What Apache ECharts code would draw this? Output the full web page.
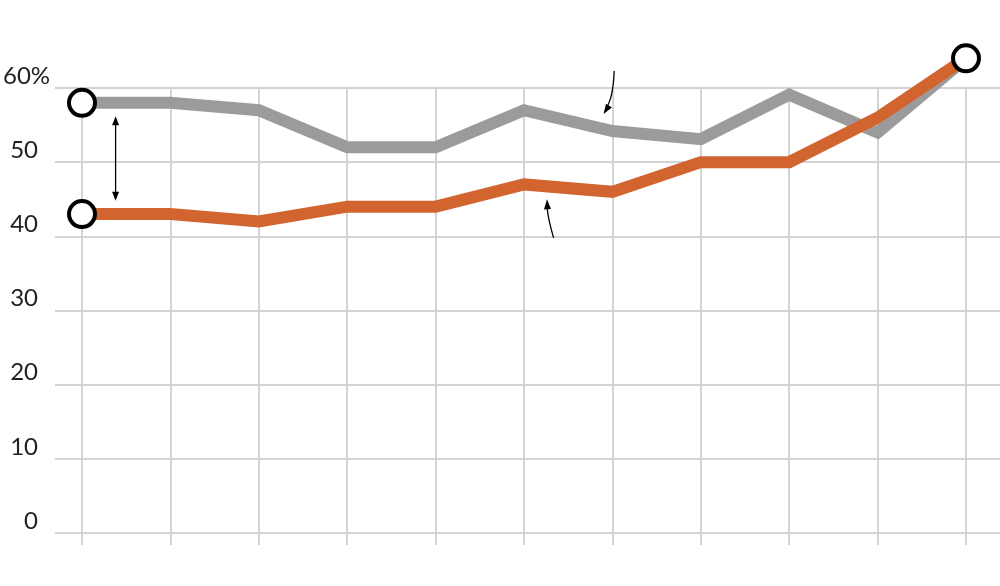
<!DOCTYPE html>
<html><head><meta charset="utf-8">
<script src="https://cdn.jsdelivr.net/npm/echarts@6/dist/echarts.min.js"></script>
<style>html,body{margin:0;padding:0;background:#fff}#c{width:1000px;height:586px}</style>
</head><body><div id="c"></div>
<script>
// ---- data ----
const categories = ['1','2','3','4','5','6','7','8','9','10','11'];
const graySeries = [58, 58, 57, 52, 52, 57, 54.2, 53.1, 59.1, 54, 64];
const orangeSeries = [43, 43, 42, 44, 44, 47, 46, 50, 50, 56, 64];
const yTicks = [0, 10, 20, 30, 40, 50, 60];
const yTopLabel = '60%';

const GRID = '#d3d3d3';
const FONT = 'Lato, "DejaVu Sans", sans-serif';
const FS = 24;
const chart = echarts.init(document.getElementById('c'), null, {renderer: 'canvas'});

const endpoints = [
  [0, graySeries[0]],
  [0, orangeSeries[0]],
  [categories.length - 1, orangeSeries[orangeSeries.length - 1]]
];

chart.setOption({
  animation: false,
  backgroundColor: '#fff',
  grid: [
    {left: 82, right: 34, top: 88, bottom: 53},
    {left: 55, right: 0, top: 88, bottom: 53}
  ],
  xAxis: [
    {type: 'category', gridIndex: 0, data: categories, boundaryGap: false,
     axisLine: {show: false},
     axisTick: {show: true, length: 12, lineStyle: {color: GRID, width: 2}},
     axisLabel: {show: false},
     splitLine: {show: true, lineStyle: {color: GRID, width: 2}}},
    {type: 'value', gridIndex: 1, show: false}
  ],
  yAxis: [
    {type: 'value', gridIndex: 0, min: yTicks[0], max: yTicks[yTicks.length - 1], interval: 10, show: false},
    {type: 'value', gridIndex: 1, min: yTicks[0], max: yTicks[yTicks.length - 1], interval: 10,
     axisLine: {show: false}, axisTick: {show: false},
     splitLine: {show: true, lineStyle: {color: GRID, width: 2}},
     axisLabel: {margin: 17, align: 'right', verticalAlign: 'bottom', fontFamily: FONT, fontSize: FS,
       color: '#222', lineHeight: FS, padding: [0, 0, 0, 0],
       formatter: v => (v === yTicks[yTicks.length - 1] ? '' : String(v))}}
  ],
  series: [
    {type: 'line', name: 'gray', xAxisIndex: 0, yAxisIndex: 0, data: graySeries, clip: false,
     symbol: 'none', lineStyle: {color: '#9b9b9b', width: 12, join: 'miter'}, z: 2},
    {type: 'line', name: 'orange', xAxisIndex: 0, yAxisIndex: 0, data: orangeSeries, clip: false,
     symbol: 'none', lineStyle: {color: '#d2642f', width: 12, join: 'miter'}, z: 3},
    {type: 'scatter', xAxisIndex: 0, yAxisIndex: 0, data: endpoints, clip: false,
     symbol: 'circle', symbolSize: 26,
     itemStyle: {color: '#fff', borderColor: '#000', borderWidth: 4, opacity: 1}, z: 5}
  ]
});

// ---- annotations (positions derived from data scale) ----
function px(xi, v) {
  const i0 = Math.floor(xi), i1 = Math.min(i0 + 1, categories.length - 1);
  const a = chart.convertToPixel({xAxisIndex: 0, yAxisIndex: 0}, [i0, v]);
  const b = chart.convertToPixel({xAxisIndex: 0, yAxisIndex: 0}, [i1, v]);
  return [a[0] + (b[0] - a[0]) * (xi - i0), a[1]];
}
function head(tip, ang, len, w) {
  const bx = tip[0] - Math.cos(ang) * len, by = tip[1] - Math.sin(ang) * len;
  const nx = -Math.sin(ang) * w / 2, ny = Math.cos(ang) * w / 2;
  return {type: 'polygon', z: 10, shape: {points: [tip, [bx + nx, by + ny], [bx - nx, by - ny]]},
          style: {fill: '#000'}};
}
const els = [];
// double arrow between lines
const da = px(0.38, 56.2), db = px(0.38, 44.8);
els.push({type: 'line', z: 10, shape: {x1: da[0], y1: da[1] + 5, x2: db[0], y2: db[1] - 5}, style: {stroke: '#000', lineWidth: 1.3}});
els.push(head(da, -Math.PI / 2, 9, 7));
els.push(head(db, Math.PI / 2, 9, 7));
// curved arrow to gray line
const s1 = px(6.02, 62.3), e1 = px(5.9, 56.5);
const c1 = [s1[0] - 1, s1[1] + 28];
els.push({type: 'bezierCurve', z: 10, shape: {x1: s1[0], y1: s1[1], x2: e1[0] + 2, y2: e1[1] - 5, cpx1: c1[0], cpy1: c1[1]},
  style: {stroke: '#000', lineWidth: 1.3, fill: null}});
els.push(head(e1, Math.atan2(e1[1] - c1[1], e1[0] - c1[0]), 10, 7));
// curved arrow to orange line
const s2 = px(5.335, 39.8), e2 = px(5.26, 45.0);
const c2 = [s2[0] - 6, s2[1] - 20];
els.push({type: 'bezierCurve', z: 10, shape: {x1: s2[0], y1: s2[1], x2: e2[0], y2: e2[1] + 6, cpx1: c2[0], cpy1: c2[1]},
  style: {stroke: '#000', lineWidth: 1.3, fill: null}});
els.push(head(e2, -Math.PI / 2 - 0.05, 10, 7));
// top label with percent sign
const topPx = chart.convertToPixel({xAxisIndex: 1, yAxisIndex: 1}, [0, yTicks[yTicks.length - 1]]);
els.push({type: 'text', z: 10, x: 3, y: topPx[1], style: {text: yTopLabel, font: FS + 'px ' + FONT, fill: '#222',
  align: 'left', verticalAlign: 'bottom'}});
chart.setOption({graphic: els});
</script></body></html>
